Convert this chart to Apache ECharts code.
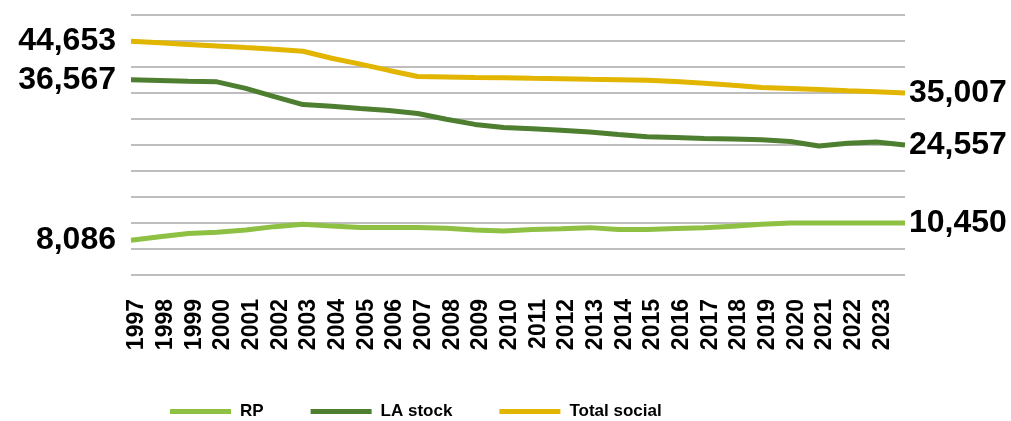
<!DOCTYPE html>
<html>
<head>
<meta charset="utf-8">
<script src="https://cdn.jsdelivr.net/npm/echarts@6/dist/echarts.min.js"></script>
<style>
html,body{margin:0;padding:0;background:#fff;}
#chart{width:1011px;height:421px;}
</style>
</head>
<body>
<div id="chart"></div>
<script>
// Categories (last point has no printed label in the reference)
const years = ['1997','1998','1999','2000','2001','2002','2003','2004','2005','2006','2007','2008','2009','2010','2011','2012','2013','2014','2015','2016','2017','2018','2019','2020','2021','2022','2023','2024'];

const seriesNames = ['RP', 'LA stock', 'Total social'];

const rpValues = [6700,7350,8000,8240,8650,9300,9780,9400,9150,9130,9130,9000,8640,8470,8730,8910,9110,8760,8730,8930,9070,9360,9760,9980,10000,10000,10000,10000];
const laStockValues = [37550,37420,37280,37150,35900,34300,32770,32440,32040,31650,31060,29960,28960,28360,28130,27850,27510,27040,26590,26450,26260,26130,26000,25680,24800,25350,25570,25000];
const totalSocialValues = [44950,44650,44350,44040,43730,43430,43020,41690,40550,39340,38170,38090,38000,37930,37830,37760,37640,37550,37450,37190,36870,36470,36080,35870,35660,35430,35230,35000];

// Values printed beside the first and last points
const startLabels = ['8,086', '36,567', '44,653'];
const endLabels = ['10,450', '24,557', '35,007'];

const colors = ['#8DC043', '#4E7F31', '#E1B500'];

const yMin = 0, yMax = 50000, yInterval = 5000;

const valueSets = [rpValues, laStockValues, totalSocialValues];
const bigLabel = {fontFamily: 'Liberation Sans, Arial, sans-serif', fontWeight: 'bold', fontSize: 32, color: '#000'};

function buildData(vals, idx) {
  return vals.map((v, i) => {
    if (i === 0) {
      return {value: v, label: Object.assign({show: true, position: 'left', distance: 15, formatter: startLabels[idx]}, bigLabel)};
    }
    if (i === vals.length - 1) {
      return {value: v, label: Object.assign({show: true, position: 'right', distance: 4, formatter: endLabels[idx]}, bigLabel)};
    }
    return v;
  });
}

const chart = echarts.init(document.getElementById('chart'), null, {renderer: 'canvas'});
chart.setOption({
  animation: false,
  backgroundColor: '#fff',
  grid: {left: 131, right: 106, top: 15, bottom: 146, containLabel: false},
  legend: {
    left: 170, top: 403, padding: 0,
    icon: 'rect', itemWidth: 61, itemHeight: 5, itemGap: 47,
    textStyle: {fontFamily: 'Liberation Sans, Arial, sans-serif', fontWeight: 'bold', fontSize: 17, color: '#000', padding: [0,0,0,4]},
    data: seriesNames
  },
  xAxis: {
    type: 'category', data: years, boundaryGap: false,
    axisLine: {show: false}, axisTick: {show: false},
    axisLabel: {
      rotate: 90, margin: 24, color: '#000',
      fontFamily: 'Liberation Sans, Arial, sans-serif', fontWeight: 'bold', fontSize: 23,
      verticalAlign: 'top', lineHeight: 12,
      interval: 0,
      formatter: (val, i) => (i < years.length - 1 ? val : '')
    }
  },
  yAxis: {
    type: 'value', min: yMin, max: yMax, interval: yInterval,
    axisLabel: {show: false}, axisLine: {show: false}, axisTick: {show: false},
    splitLine: {lineStyle: {color: '#A8A8A8', width: 1.5}}
  },
  series: valueSets.map((vals, idx) => ({
    name: seriesNames[idx], type: 'line',
    data: buildData(vals, idx),
    showSymbol: true, symbol: 'circle', symbolSize: 0,
    lineStyle: {color: colors[idx], width: 5},
    itemStyle: {color: colors[idx]},
    emphasis: {disabled: true},
    z: idx === 0 ? 3 : (idx === 1 ? 2 : 1)
  }))
});
</script>
</body>
</html>
